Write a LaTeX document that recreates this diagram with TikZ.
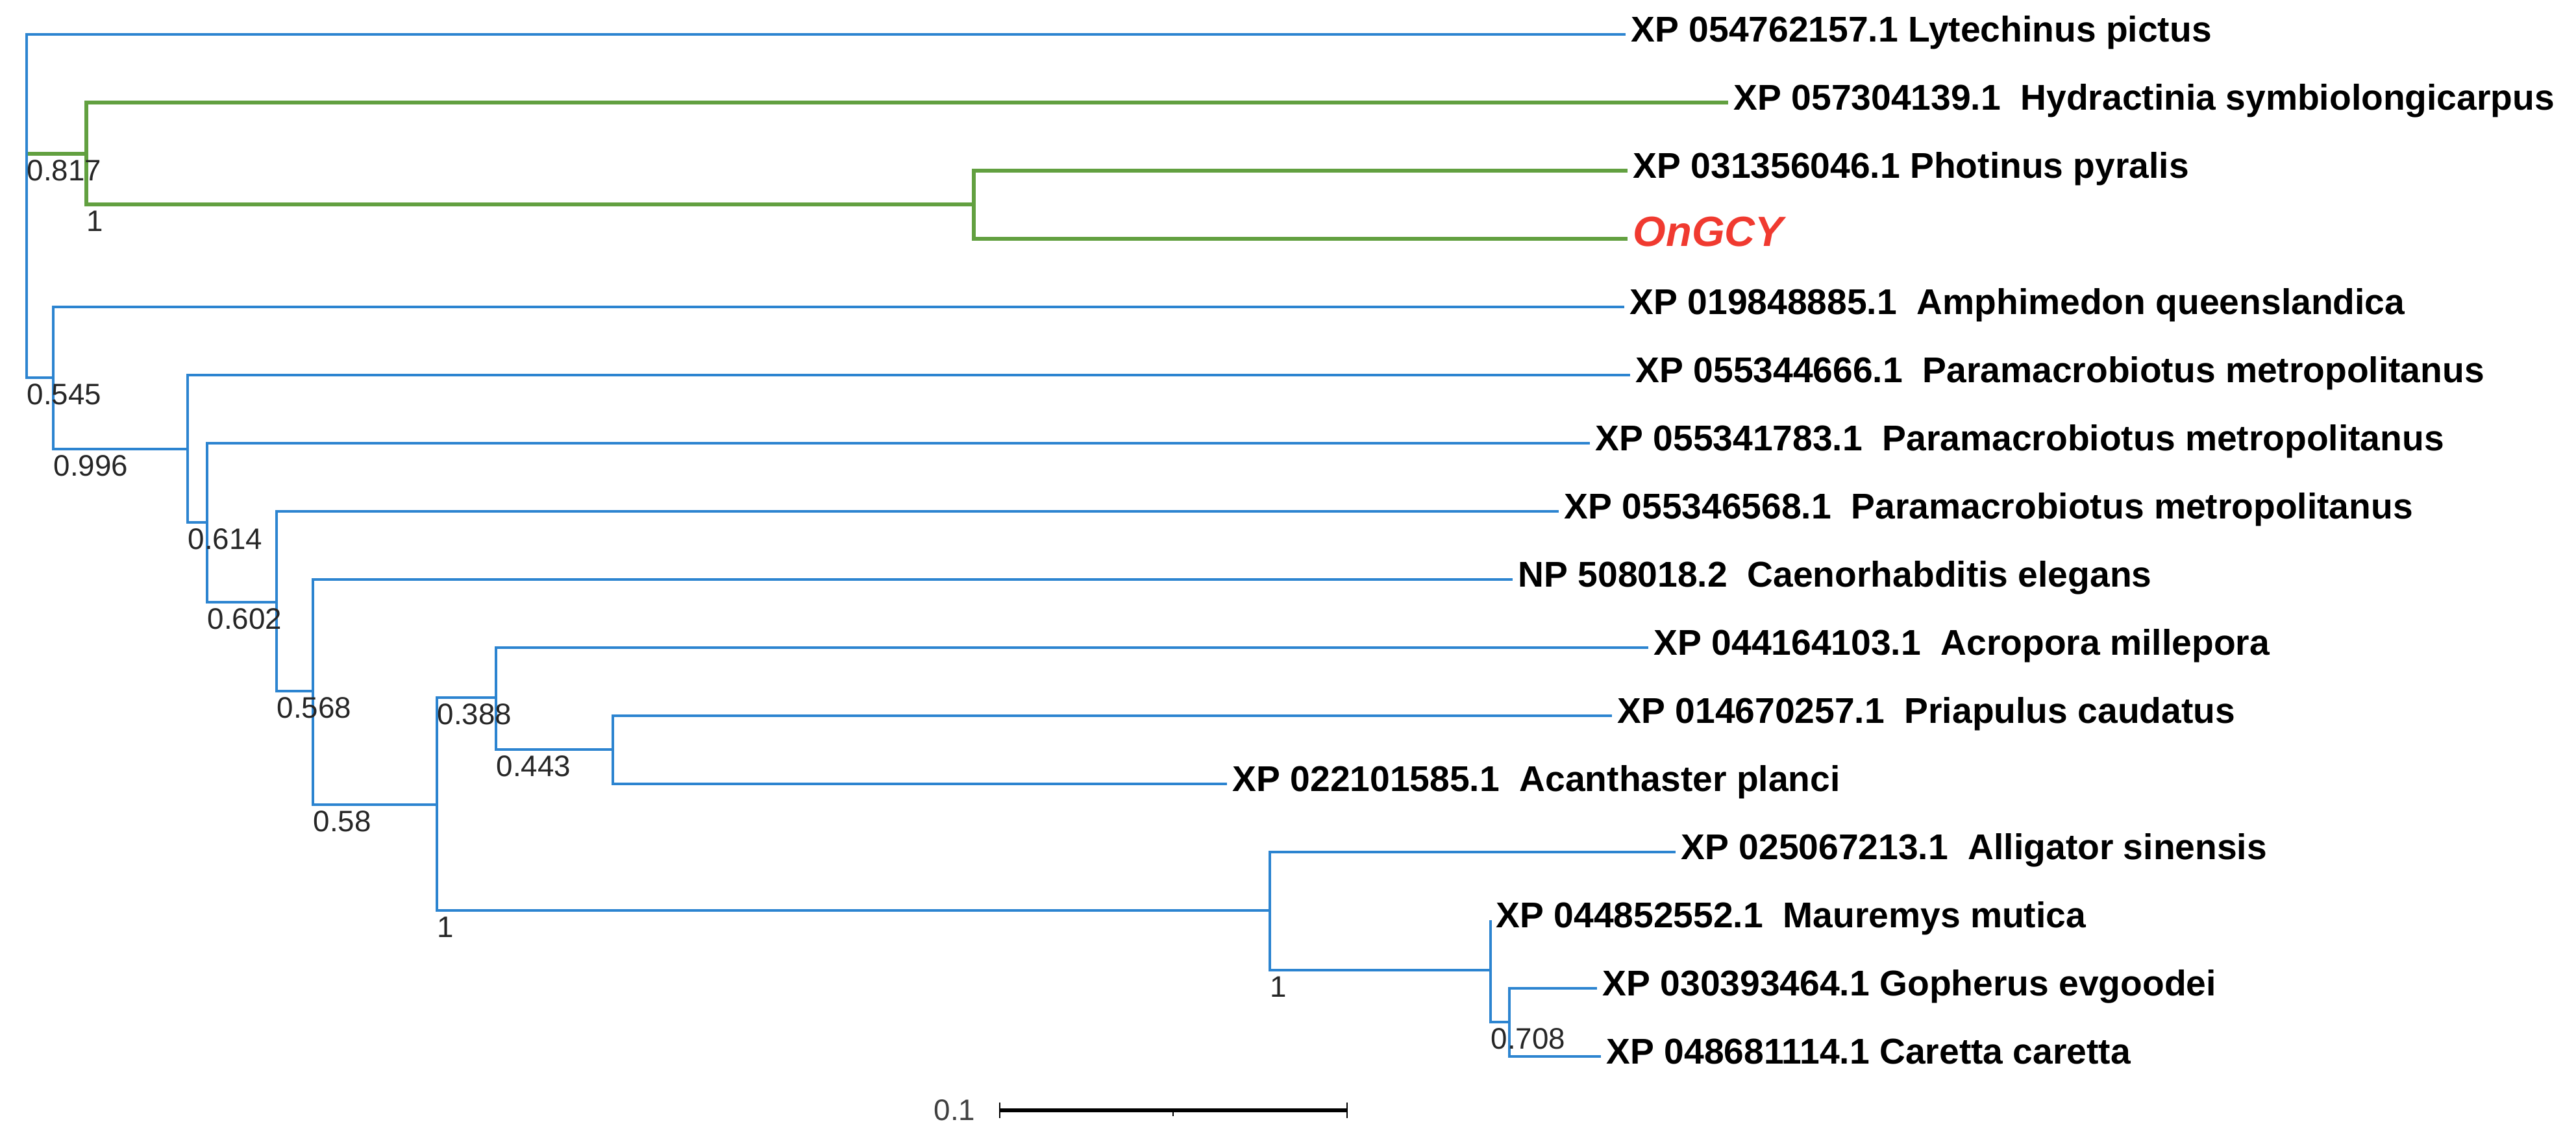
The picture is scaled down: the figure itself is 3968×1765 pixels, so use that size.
\documentclass[tikz,border=0pt]{standalone}
\usepackage{fontspec}
\setmainfont{Liberation Sans}
\usetikzlibrary{positioning}
\definecolor{grenblaa}{RGB}{44,132,208}
\definecolor{grengroen}{RGB}{98,160,64}
\definecolor{fremhaev}{RGB}{240,58,48}
\tikzset{
    %Define style for branches
    gren/.style={
           draw=grenblaa,
           line width=1.4pt},
    %Define style for the highlighted clade
    groen/.style={
           gren,
           draw=grengroen,
           line width=1.9pt},
    %Define style for leaf labels
    blad/.style={
           anchor=west,
           inner xsep=0.08cm,
           inner ysep=0pt,
           text height=1.5ex,
           text depth=.25ex,
           font=\fontsize{15.7}{18}\selectfont\bfseries},
    %Define style for support values
    stoette/.style={
           anchor=north west,
           inner sep=0pt,
           yshift=-0.15cm,
           text height=0.72em,
           text depth=0pt,
           text=black!85,
           font=\fontsize{13}{15}\selectfont},
}
\begin{document}
\begin{tikzpicture}[x=0.01cm, y=-0.01cm]
    \useasboundingbox (0,0) rectangle (3968,1765);
    % inner nodes
    \coordinate (rod) at (41,317);
    \coordinate (k817) at (133,237);
    \coordinate (k1a) at (1500,315);
    \coordinate (k545) at (82,582);
    \coordinate (k996) at (289,692);
    \coordinate (k614) at (319,805);
    \coordinate (k602) at (426,928);
    \coordinate (k568) at (482,1065);
    \coordinate (k58) at (673,1240);
    \coordinate (k388) at (764,1075);
    \coordinate (k443) at (944,1155);
    \coordinate (k1b) at (1956,1403);
    \coordinate (k1c) at (2296,1495);
    \coordinate (k708) at (2325,1575);
    % leaves
    \node[blad] (lyt) at (2504,53) {XP 054762157.1 Lytechinus pictus};
    \node[blad] (hyd) at (2662,158) {XP 057304139.1\ \ Hydractinia symbiolongicarpus};
    \node[blad] (pho) at (2507,263) {XP 031356046.1 Photinus pyralis};
    \node[blad, text=fremhaev, font=\fontsize{18.5}{21}\selectfont\bfseries\itshape] (ong) at (2507,368) {OnGCY};
    \node[blad] (amp) at (2502,473) {XP 019848885.1\ \ Amphimedon queenslandica};
    \node[blad] (pm1) at (2511,578) {XP 055344666.1\ \ Paramacrobiotus metropolitanus};
    \node[blad] (pm2) at (2449,683) {XP 055341783.1\ \ Paramacrobiotus metropolitanus};
    \node[blad] (pm3) at (2401,788) {XP 055346568.1\ \ Paramacrobiotus metropolitanus};
    \node[blad] (cel) at (2330,893) {NP 508018.2\ \ Caenorhabditis elegans};
    \node[blad] (acr) at (2539,998) {XP 044164103.1\ \ Acropora millepora};
    \node[blad] (pri) at (2483,1103) {XP 014670257.1\ \ Priapulus caudatus};
    \node[blad] (aca) at (1890,1208) {XP 022101585.1\ \ Acanthaster planci};
    \node[blad] (all) at (2581,1313) {XP 025067213.1\ \ Alligator sinensis};
    \node[blad] (mau) at (2296,1418) {XP 044852552.1\ \ Mauremys mutica};
    \node[blad] (gop) at (2460,1523) {XP 030393464.1 Gopherus evgoodei};
    \node[blad] (car) at (2466,1628) {XP 048681114.1 Caretta caretta};
    % green clade
    \draw[groen] (rod |- k817) -- (k817);
    \draw[groen] (k817) |- (hyd.west);
    \draw[groen] (k817) |- (k1a);
    \draw[groen] (k1a) |- (pho.west);
    \draw[groen] (k1a) |- (ong.west);
    % rest of the tree
    \draw[gren] (rod) |- (lyt.west);
    \draw[gren] (rod) |- (k545);
    \draw[gren] (k545) |- (amp.west);
    \draw[gren] (k545) |- (k996);
    \draw[gren] (k996) |- (pm1.west);
    \draw[gren] (k996) |- (k614);
    \draw[gren] (k614) |- (pm2.west);
    \draw[gren] (k614) |- (k602);
    \draw[gren] (k602) |- (pm3.west);
    \draw[gren] (k602) |- (k568);
    \draw[gren] (k568) |- (cel.west);
    \draw[gren] (k568) |- (k58);
    \draw[gren] (k58) |- (k388);
    \draw[gren] (k58) |- (k1b);
    \draw[gren] (k388) |- (acr.west);
    \draw[gren] (k388) |- (k443);
    \draw[gren] (k443) |- (pri.west);
    \draw[gren] (k443) |- (aca.west);
    \draw[gren] (k1b) |- (all.west);
    \draw[gren] (k1b) |- (k1c);
    \draw[gren] (k1c) |- (mau.west);
    \draw[gren] (k1c) |- (k708);
    \draw[gren] (k708) |- (gop.west);
    \draw[gren] (k708) |- (car.west);
    % support values
    \node[stoette] (s817) at (rod |- k817) {0.817};
    \node[stoette] (s1a) at (k817 |- k1a) {1};
    \node[stoette] (s545) at (rod |- k545) {0.545};
    \node[stoette] (s996) at (k545 |- k996) {0.996};
    \node[stoette] (s614) at (k996 |- k614) {0.614};
    \node[stoette] (s602) at (k614 |- k602) {0.602};
    \node[stoette] (s568) at (k602 |- k568) {0.568};
    \node[stoette] (s58) at (k568 |- k58) {0.58};
    \node[stoette] (s388) at (k58 |- k388) {0.388};
    \node[stoette] (s1b) at (k58 |- k1b) {1};
    \node[stoette] (s443) at (k388 |- k443) {0.443};
    \node[stoette] (s1c) at (k1b |- k1c) {1};
    \node[stoette] (s708) at (k1c |- k708) {0.708};
    % scale bar
    \coordinate (sbl) at (1540,1711);
    \coordinate (sbm) at (1807,1711);
    \coordinate (sbr) at (2075,1711);
    \draw[line width=1.8pt] (sbl) -- (sbr);
    \draw[line width=0.7pt] ([yshift=0.12cm]sbl) -- ([yshift=-0.12cm]sbl);
    \draw[line width=0.7pt] ([yshift=0.12cm]sbr) -- ([yshift=-0.12cm]sbr);
    \draw[line width=0.7pt] (sbm) -- ([yshift=-0.09cm]sbm);
    \node[left=0.37cm of sbl, inner sep=0pt, text=black!75, font=\fontsize{13}{15}\selectfont] (skala) {0.1};
\end{tikzpicture}
\end{document}
